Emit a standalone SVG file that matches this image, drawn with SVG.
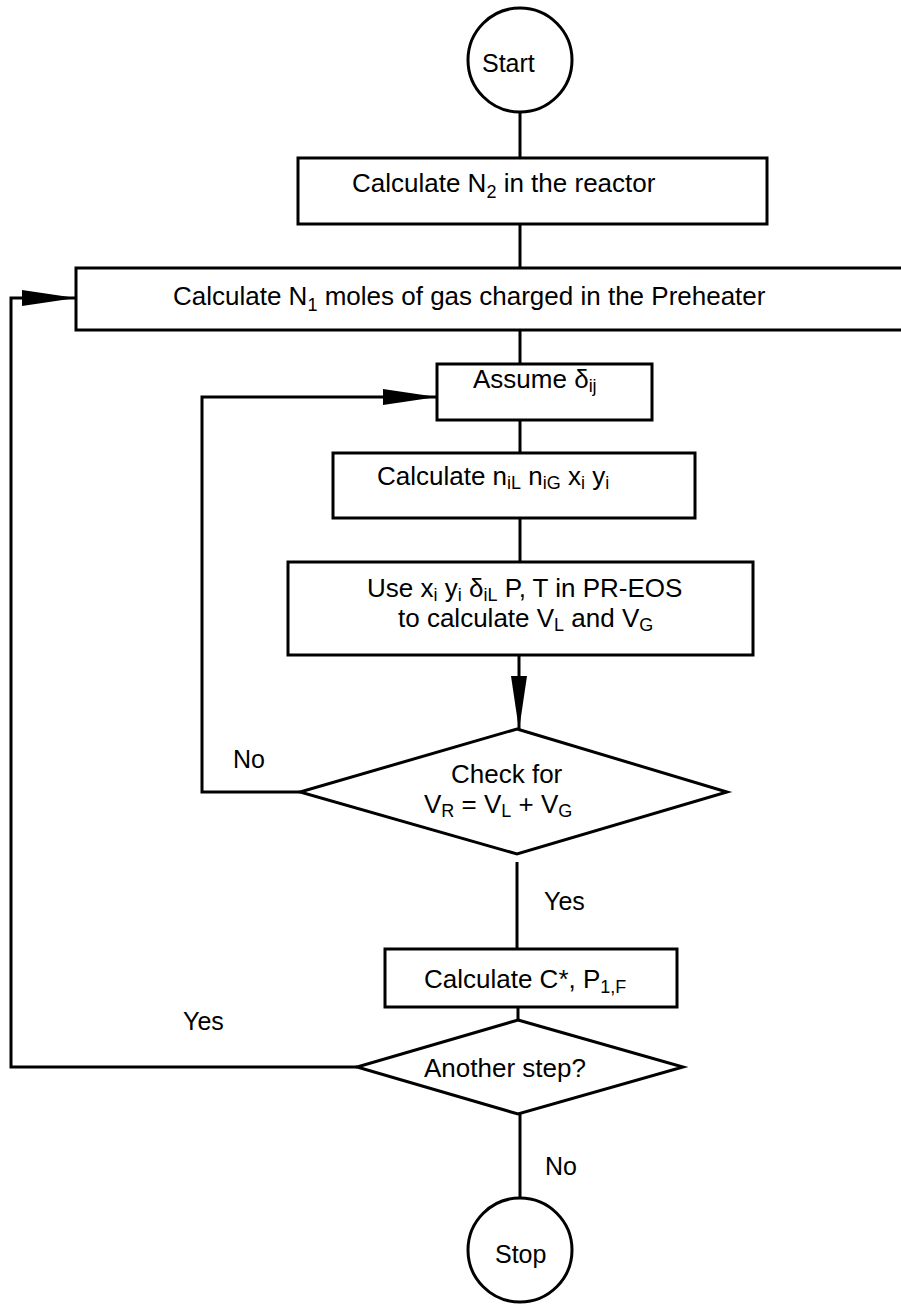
<svg xmlns="http://www.w3.org/2000/svg" width="901" height="1304" viewBox="0 0 901 1304">
<style>
.s{fill:#fff;stroke:#000;stroke-width:3}
.c{fill:none;stroke:#000;stroke-width:3}
text{font-family:"Liberation Sans",Arial,sans-serif;font-size:26px;fill:#000}
.l{font-size:25px}
.sub{font-size:18px}
</style>
<defs>
<marker id="ah" markerUnits="userSpaceOnUse" markerWidth="60" markerHeight="20" viewBox="0 -10 60 20" refX="54" refY="0" orient="auto">
<path d="M0,-8 L54,0 L0,8 z" fill="#000"/>
</marker>
</defs>
<g id="connectors">
<line class="c" x1="520" y1="112" x2="520" y2="158"/>
<line class="c" x1="520" y1="224" x2="520" y2="268"/>
<line class="c" x1="520" y1="330" x2="520" y2="364"/>
<line class="c" x1="520" y1="420" x2="520" y2="453"/>
<line class="c" x1="520" y1="518" x2="520" y2="562"/>
<line class="c" x1="519" y1="655" x2="519" y2="730" marker-end="url(#ah)"/>
<path class="c" d="M300,792 H202 V397 H437" marker-end="url(#ah)"/>
<line class="c" x1="517" y1="862" x2="517" y2="949"/>
<line class="c" x1="518" y1="1007" x2="518" y2="1020"/>
<path class="c" d="M357,1067 H11 V298 H76" marker-end="url(#ah)"/>
<line class="c" x1="520" y1="1114" x2="520" y2="1198"/>
<text class="l" x="233" y="768">No</text>
<text class="l" x="544" y="910">Yes</text>
<text class="l" x="183" y="1030">Yes</text>
<text class="l" x="545" y="1175">No</text>
</g>
<g id="start">
<circle class="s" cx="520" cy="60" r="52"/>
<text class="l" x="482" y="72">Start</text>
</g>
<g id="calcN2">
<rect class="s" x="298" y="158" width="469" height="66"/>
<text x="352" y="192">Calculate N<tspan class="sub" dy="6">2</tspan><tspan dy="-6"> in the reactor</tspan></text>
</g>
<g id="calcN1">
<rect class="s" x="76" y="268" width="840" height="62"/>
<text x="173" y="305">Calculate N<tspan class="sub" dy="6">1</tspan><tspan dy="-6"> moles of gas charged in the Preheater</tspan></text>
</g>
<g id="assume">
<rect class="s" x="437" y="364" width="215" height="56"/>
<text x="473" y="388">Assume δ<tspan class="sub" dy="4">ij</tspan></text>
</g>
<g id="calcn">
<rect class="s" x="333" y="453" width="362" height="65"/>
<text x="377" y="485">Calculate n<tspan class="sub" dy="4">iL</tspan><tspan dy="-4"> n</tspan><tspan class="sub" dy="4">iG</tspan><tspan dy="-4"> x</tspan><tspan class="sub" dy="4">i</tspan><tspan dy="-4"> y</tspan><tspan class="sub" dy="4">i</tspan></text>
</g>
<g id="preos">
<rect class="s" x="288" y="562" width="465" height="93"/>
<text x="367" y="597">Use x<tspan class="sub" dy="4">i</tspan><tspan dy="-4"> y</tspan><tspan class="sub" dy="4">i</tspan><tspan dy="-4"> δ</tspan><tspan class="sub" dy="4">iL</tspan><tspan dy="-4"> P, T in PR-EOS</tspan></text>
<text x="398" y="627">to calculate V<tspan class="sub" dy="4">L</tspan><tspan dy="-4"> and V</tspan><tspan class="sub" dy="4">G</tspan></text>
</g>
<g id="check">
<polygon class="s" points="517,729 727,792 517,854 300,792"/>
<text x="451" y="783">Check for</text>
<text x="424" y="813">V<tspan class="sub" dy="4">R</tspan><tspan dy="-4"> = V</tspan><tspan class="sub" dy="4">L</tspan><tspan dy="-4"> + V</tspan><tspan class="sub" dy="4">G</tspan></text>
</g>
<g id="calcC">
<rect class="s" x="385" y="949" width="292" height="58"/>
<text x="424" y="988">Calculate C*, P<tspan class="sub" dy="5">1,F</tspan></text>
</g>
<g id="another">
<polygon class="s" points="518,1020 683,1067 518,1114 357,1067"/>
<text x="424" y="1077">Another step?</text>
</g>
<g id="stop">
<circle class="s" cx="520" cy="1250" r="52"/>
<text class="l" x="495" y="1263">Stop</text>
</g>
</svg>
